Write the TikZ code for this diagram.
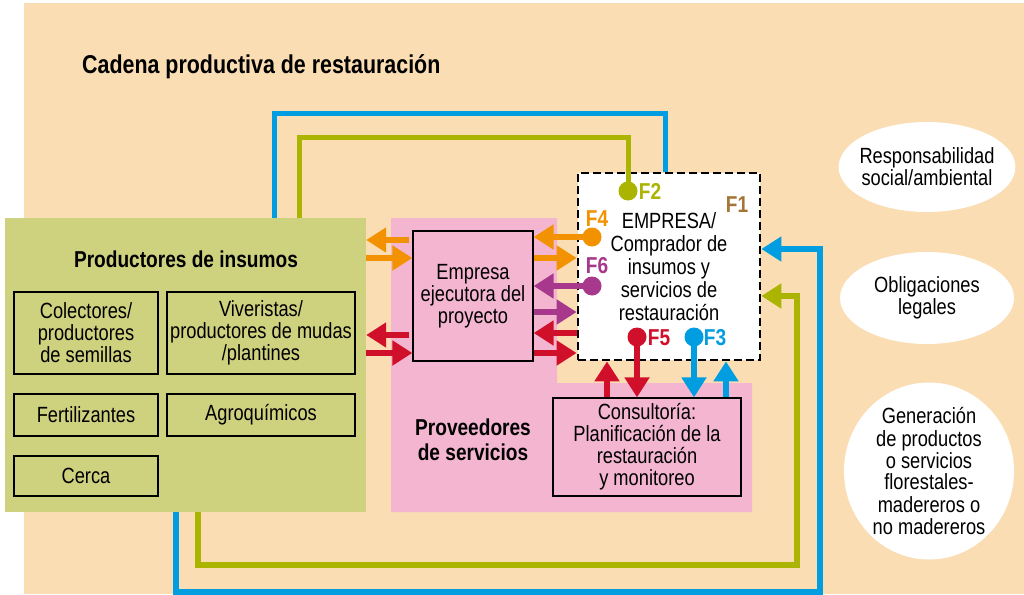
\documentclass[tikz,border=0pt]{standalone}
\usepackage{fontspec}
\setmainfont{Liberation Sans}[FakeStretch=0.83]
\usetikzlibrary{positioning, arrows.meta, shapes.geometric}
\definecolor{peach}{HTML}{FADDB3}
\definecolor{greenbg}{HTML}{CED17E}
\definecolor{pinkbg}{HTML}{F3B5CF}
\definecolor{fblue}{HTML}{009EE0}
\definecolor{folive}{HTML}{ABB400}
\definecolor{forange}{HTML}{F39200}
\definecolor{fred}{HTML}{D0102A}
\definecolor{fpurple}{HTML}{A7388C}
\definecolor{fbrown}{HTML}{A57537}

\begin{document}
\begin{tikzpicture}[x=1pt, y=-1pt]

\tikzset{
body/.style = {align=center, inner sep=0pt, font=\fontsize{22}{22}\selectfont},
heading/.style = {align=center, inner sep=0pt, font=\bfseries\fontsize{23}{24.5}\selectfont},
insumo/.style = {rectangle, draw, line width=1.3pt, body, minimum height=42pt},
actor/.style = {rectangle, draw, line width=1.3pt, fill=pinkbg, body},
goal/.style = {ellipse, fill=white, body, inner sep=-5pt, minimum width=174pt},
flow/.style = {line width=5.5pt, -{Triangle[length=20pt, width=24pt]}},
loopline/.style = {line width=5pt},
dot/.style = {circle, inner sep=0pt, minimum size=19pt},
flabel/.style = {inner sep=0pt, font=\bfseries\fontsize{23}{23}\selectfont},
	}

%% Background
\useasboundingbox (0,0) rectangle (1024,594);
\fill [peach] (24,3) rectangle (1024,594);
\node at (82,74) [anchor=base west, inner sep=0pt, font=\bfseries\fontsize{25.8}{26}\selectfont] (title) {Cadena productiva de restauración};

%% Productores de insumos
\node at (185.5,365) [rectangle, fill=greenbg, minimum width=361pt, minimum height=294pt, inner sep=0pt] (insumos) {};
\node at (186,259) [heading] (insumostitle) {Productores de insumos};
\node at (86,333) [insumo, minimum width=144pt, minimum height=82pt] (colectores) {Colectores/\\productores\\de semillas};
\node at (261,333) [insumo, minimum width=188pt, minimum height=82pt] (viveristas) {Viveristas/\\productores de mudas\\/plantines};
\node at (86,415) [insumo, minimum width=144pt] (fertil) {Fertilizantes};
\node at (261,415) [insumo, minimum width=188pt] (agro) {Agroquímicos};
\node at (86,476) [insumo, minimum width=144pt, minimum height=40pt] (cerca) {Cerca};

%% Proveedores de servicios
\fill [pinkbg] (391,218) -- (557,218) -- (557,383) -- (752,383) -- (752,512) -- (391,512) -- cycle;
\node at (473,440) [heading] (proveedores) {Proveedores\\de servicios};
\node at (473,296) [actor, minimum width=120pt, minimum height=130pt] (ejec) {Empresa\\ejecutora del\\proyecto};
\node at (647,447) [actor, minimum width=188pt, minimum height=98pt] (consult) {Consultoría:\\Planificación de la\\restauración\\y monitoreo};

%% Empresa
\node at (669,266.5) [rectangle, draw, fill=white, dash pattern=on 8pt off 4pt, line width=2.8pt, minimum width=182pt, minimum height=187pt, body, font=\fontsize{22}{23}\selectfont] (empresa) {EMPRESA/\\Comprador de\\insumos y\\servicios de\\restauración};

%% Motivaciones
\node at (927,167) [goal, minimum height=90pt] (social) {Responsabilidad\\social/ambiental};
\node at (927,298) [goal, minimum height=92pt] (legal) {Obligaciones\\legales};
\node at (929,471) [goal, minimum width=170pt, minimum height=177pt] (generacion) {Generación\\de productos\\o servicios\\florestales-\\madereros o\\no madereros};

%% Financing points
\node at (628,191) [dot, fill=folive] (d2) {};
\node at (592,237) [dot, fill=forange] (d4) {};
\node at (592,286) [dot, fill=fpurple] (d6) {};
\node at (637,337) [dot, fill=fred] (d5) {};
\node at (694,337) [dot, fill=fblue] (d3) {};

\node at (737,205) [flabel, text=fbrown] (f1) {F1};
\node at (650,191) [flabel, text=folive] (f2) {F2};
\node at (597,219) [flabel, text=forange] (f4) {F4};
\node at (597,266) [flabel, text=fpurple] (f6) {F6};
\node at (659,338) [flabel, text=fred] (f5) {F5};
\node at (715,338) [flabel, text=fblue] (f3) {F3};

%% Loops
\draw [loopline, color=fblue] (empresa.north -| 665,0) |- (274,113) -- (insumos.north -| 274,0);
\draw [loopline, color=folive] (d2.center) |- (299,137) -- (insumos.north -| 299,0);
\draw [flow, color=fblue] (insumos.south -| 176,0) |- (820,592) |- (empresa.east |- 0,249);
\draw [flow, color=folive] (insumos.south -| 198,0) |- (797,565) |- (empresa.east |- 0,296);

%% Flows
\path [flow, color=forange, shorten <=3pt] (ejec.west |- 0,240) edge [] (insumos.east |- 0,240);
\path [flow, color=forange] (insumos.east |- 0,258) edge [] (ejec.west |- 0,258);
\path [flow, color=fred, shorten <=3pt] (ejec.west |- 0,335) edge [] (insumos.east |- 0,335);
\path [flow, color=fred] (insumos.east |- 0,353) edge [] (ejec.west |- 0,353);

\path [flow, color=forange] (d4.center) edge [] (ejec.east |- d4);
\path [flow, color=forange] (ejec.east |- 0,258) edge [] (empresa.west |- 0,258);
\path [flow, color=fpurple] (d6.center) edge [] (ejec.east |- d6);
\path [flow, color=fpurple] (ejec.east |- 0,312) edge [] (empresa.west |- 0,312);
\path [flow, color=fred] (empresa.west |- 0,333) edge [] (ejec.east |- 0,333);
\path [flow, color=fred] (ejec.east |- 0,353) edge [] (empresa.west |- 0,353);

\path [flow, color=fred] (consult.north -| 607,0) edge [] (empresa.south -| 607,0);
\path [flow, color=fred] (d5.center) edge [] (consult.north -| d5);
\path [flow, color=fblue] (d3.center) edge [] (consult.north -| d3);
\path [flow, color=fblue] (consult.north -| 726,0) edge [] (empresa.south -| 726,0);

\end{tikzpicture}
\end{document}
